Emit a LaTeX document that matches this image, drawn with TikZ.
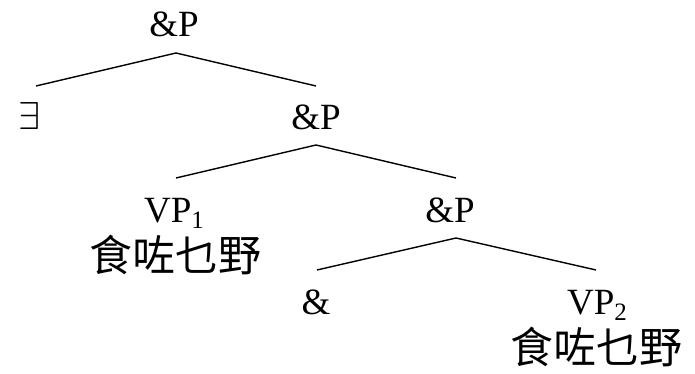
\documentclass[tikz,border=0pt]{standalone}
\usepackage{fontspec}
\setmainfont{Liberation Serif}
\newfontfamily\cjk{Noto Sans CJK TC}
\begin{document}
\begin{tikzpicture}[x=1pt,y=1pt,
  lab/.style={inner sep=0pt,anchor=base,font=\fontsize{37}{40}\selectfont},
  han/.style={inner sep=0pt,anchor=base,font=\fontsize{43}{46}\selectfont\cjk},
  edge/.style={line width=1.4pt,black}]
\useasboundingbox (0,0) rectangle (695,374);
\newcommand{\sbs}[1]{\raisebox{-0.15em}{\fontsize{25}{25}\selectfont #1}}
% nodes
\node[lab] (p1) at (174,337) {\&P};
\node[inner sep=0pt,anchor=base] (ex) at (30,244) {\resizebox{22pt}{27pt}{$\exists$}};
\node[lab] (p2) at (316,244) {\&P};
\node[lab] (vp1) at (174,151) {VP\sbs{1}};
\node[han] (h1) at (175,102) {食咗乜野};
\node[lab] (p3) at (450,151) {\&P};
\node[lab] (amp) at (316,59) {\&};
\node[lab] (vp2) at (597,59) {VP\sbs{2}};
\node[han] (h2) at (596,10) {食咗乜野};
% connector end points
\coordinate (a1) at (176,321);
\coordinate (l1) at (36,288);
\coordinate (r1) at (316,288);
\coordinate (a2) at (316,229);
\coordinate (l2) at (176,196);
\coordinate (r2) at (456,196);
\coordinate (a3) at (456,136);
\coordinate (l3) at (317,104);
\coordinate (r3) at (596,104);
\draw[edge] (l1) -- (a1) -- (r1);
\draw[edge] (l2) -- (a2) -- (r2);
\draw[edge] (l3) -- (a3) -- (r3);
\end{tikzpicture}
\end{document}
